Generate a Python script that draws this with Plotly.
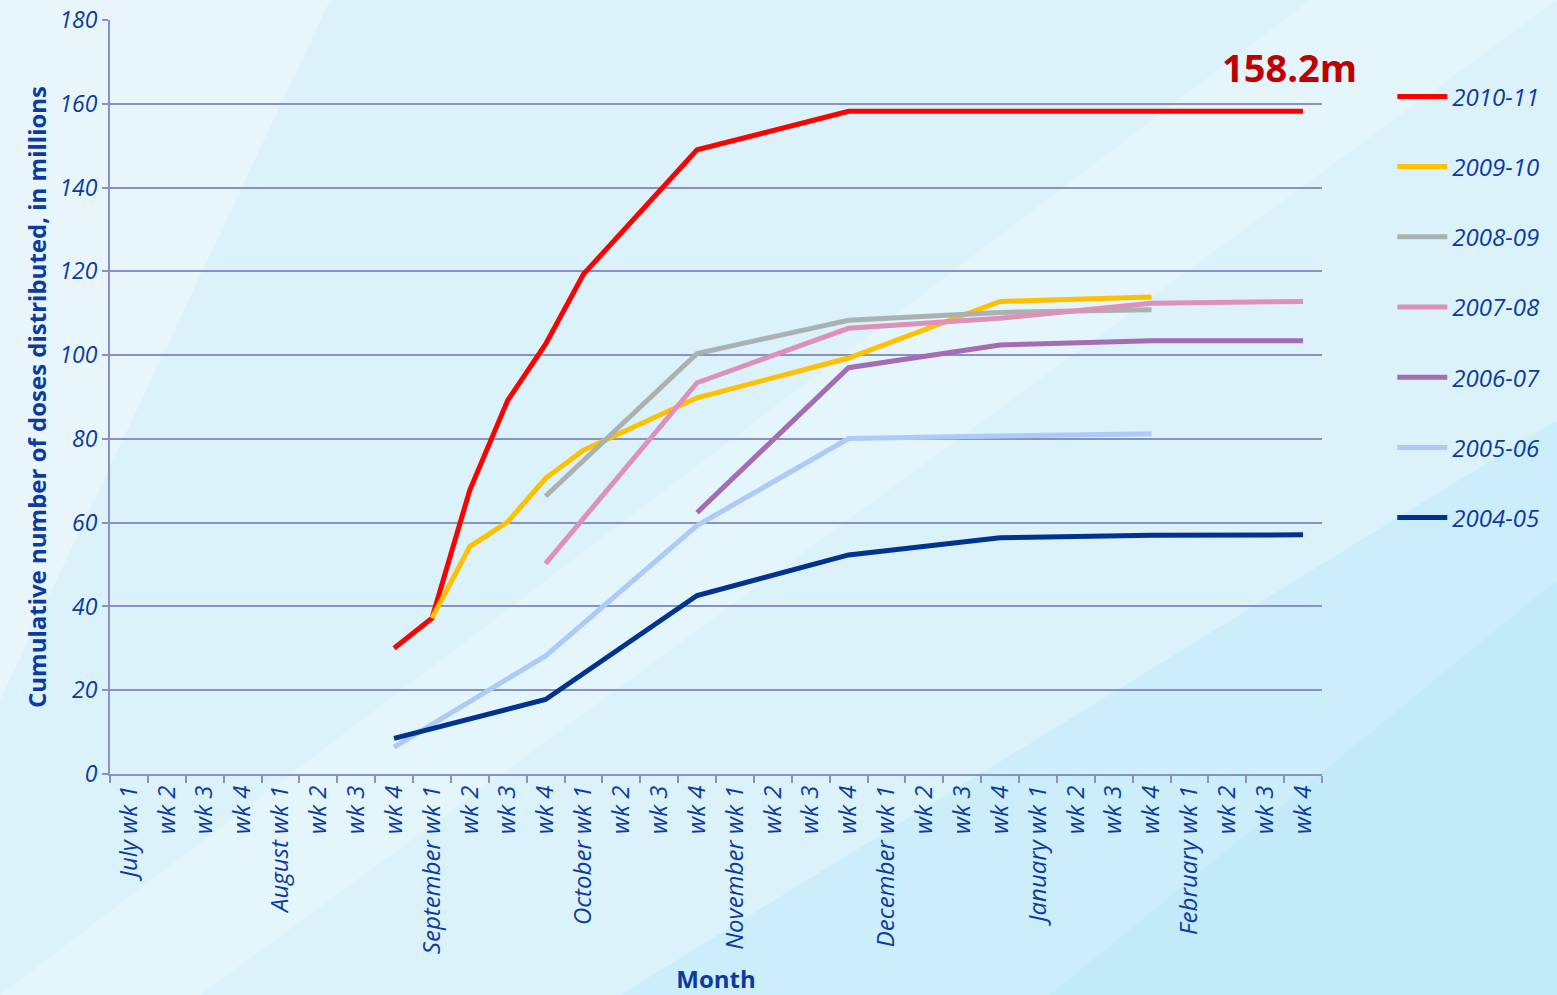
import plotly.graph_objects as go

months = ["July", "August", "September", "October", "November", "December", "January", "February"]
week_labels = []
for m in months:
    week_labels += [f"{m} wk 1", "wk 2", "wk 3", "wk 4"]
x_idx = list(range(len(week_labels)))

N = None
s_2010_11 = [N]*7 + [30, 37.2, 67.8, 89.2, 102.6, 119.3, N, N, 149.0, N, N, N, 158.2, N, N, N, 158.2, N, N, N, 158.2, N, N, N, 158.2]
s_2009_10 = [N]*8 + [37.2, 54.3, 60.2, 70.6, 77.3, N, N, 89.8, N, N, N, 99.3, N, N, N, 112.8, N, N, N, 113.9, N, N, N, N]
s_2008_09 = [N]*11 + [66.3, N, N, N, 100.4, N, N, N, 108.3, N, N, N, 110.2, N, N, N, 110.8, N, N, N, N]
s_2007_08 = [N]*11 + [50.2, N, N, N, 93.4, N, N, N, 106.4, N, N, N, 108.8, N, N, N, 112.4, N, N, N, 112.8]
s_2006_07 = [N]*15 + [62.4, N, N, N, 97.0, N, N, N, 102.4, N, N, N, 103.4, N, N, N, 103.4]
s_2005_06 = [N]*7 + [6.4, N, N, N, 28.2, N, N, N, 59.3, N, N, N, 80.1, N, N, N, 80.7, N, N, N, 81.2, N, N, N, N]
s_2004_05 = [N]*7 + [8.5, N, N, N, 17.8, N, N, N, 42.6, N, N, N, 52.3, N, N, N, 56.4, N, N, N, 57.0, N, N, N, 57.1]

series_names = ["2010-11", "2009-10", "2008-09", "2007-08", "2006-07", "2005-06", "2004-05"]
series_values = [s_2010_11, s_2009_10, s_2008_09, s_2007_08, s_2006_07, s_2005_06, s_2004_05]
series_colors = ["#ff0000", "#ffc000", "#aab1b1", "#dd90b9", "#a46cb5", "#aecafa", "#00338f"]

peak_value = 158.2

TXT = "#0d3aa0"
GRID = "#8a90c0"
FONT = "Open Sans"

fig = go.Figure()
for i, (name, vals, col) in enumerate(zip(series_names, series_values, series_colors)):
    fig.add_trace(go.Scatter(
        x=x_idx, y=vals, name=name, mode="lines", connectgaps=True,
        line=dict(color=col, width=5), legendgroup=f"g{i}",
    ))

fig.add_annotation(
    x=x_idx[-1], y=peak_value, xref="x", yref="y",
    text=f"<b>{peak_value}m</b>", showarrow=False,
    xanchor="right", xshift=56, yshift=44,
    font=dict(family=FONT, size=38, color="#c00000"),
)

# decorative background bands (paper coords)
def px(xp):
    return (xp - 110) / 1212
def py(yp):
    return (774 - yp) / 754

shapes = [
    dict(type="path", xref="paper", yref="paper", layer="below", line=dict(width=0),
         fillcolor="rgba(255,255,255,0.35)",
         path=f"M {px(0)},{py(995)} L {px(0)},{py(0)} L {px(330)},{py(0)} L {px(0)},{py(700)} Z"),
    dict(type="path", xref="paper", yref="paper", layer="below", line=dict(width=0),
         fillcolor="rgba(255,255,255,0.25)",
         path=f"M {px(0)},{py(995)} L {px(1310)},{py(0)} L {px(1557)},{py(0)} L {px(200)},{py(995)} Z"),
    dict(type="path", xref="paper", yref="paper", layer="below", line=dict(width=0),
         fillcolor="rgba(150,220,245,0.22)",
         path=f"M {px(620)},{py(995)} L {px(1557)},{py(420)} L {px(1557)},{py(995)} Z"),
    dict(type="path", xref="paper", yref="paper", layer="below", line=dict(width=0),
         fillcolor="rgba(150,220,245,0.18)",
         path=f"M {px(1050)},{py(995)} L {px(1557)},{py(580)} L {px(1557)},{py(995)} Z"),
]

fig.update_layout(
    width=1557, height=995,
    margin=dict(l=110, r=235, t=20, b=221, autoexpand=False),
    paper_bgcolor="#dcf2fb",
    plot_bgcolor="rgba(0,0,0,0)",
    shapes=shapes,
    font=dict(family=FONT, color=TXT),
    showlegend=True,
    legend=dict(
        x=1.058, y=0.928, xanchor="left", yanchor="top",
        bgcolor="rgba(0,0,0,0)",
        font=dict(family=FONT, size=24, color=TXT, style="italic"),
        tracegroupgap=36, itemwidth=50,
    ),
    xaxis=dict(
        range=[-0.5, len(week_labels) - 0.5],
        tickmode="array", tickvals=x_idx, ticktext=week_labels,
        tickangle=-90, ticks="", showgrid=False, zeroline=False, automargin=False,
        tickfont=dict(family=FONT, size=24, color=TXT, style="italic"),
        showline=True, linecolor=GRID, linewidth=2,
        minor=dict(tickmode="linear", tick0=-0.5, dtick=1, ticks="outside",
                   ticklen=7, tickwidth=2, tickcolor=GRID, showgrid=False),
        title=dict(text="<b>Month</b>", font=dict(family=FONT, size=24, color=TXT), standoff=18),
    ),
    yaxis=dict(
        range=[0, 180], tickvals=list(range(0, 181, 20)), automargin=False,
        ticks="outside", ticklen=6, tickwidth=2, tickcolor=GRID,
        showgrid=True, gridcolor=GRID, gridwidth=2,
        zeroline=False, showline=True, linecolor=GRID, linewidth=2,
        tickfont=dict(family=FONT, size=23, color=TXT, style="italic"),
        title=dict(text="<b>Cumulative number of doses distributed, in millions</b>",
                   font=dict(family=FONT, size=24, color=TXT), standoff=6),
    ),
)

fig.write_html(
    "out.html",
    config={"displayModeBar": False},
    post_script="document.body.style.margin='0';document.body.style.overflow='hidden';",
)
